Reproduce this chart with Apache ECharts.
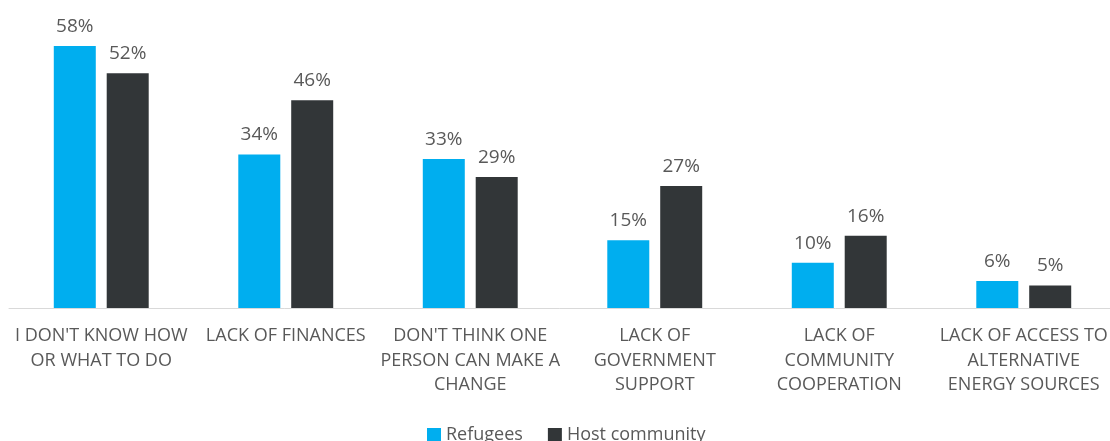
<!DOCTYPE html>
<html><head><meta charset="utf-8">
<script src="https://cdn.jsdelivr.net/npm/echarts@6/dist/echarts.min.js"></script>
<style>html,body{margin:0;padding:0;background:#fff}#c{width:1110px;height:441px}</style>
</head><body><div id="c"></div>
<script>
const categories = [
  "I DON'T KNOW HOW\nOR WHAT TO DO",
  "LACK OF FINANCES",
  "DON'T THINK ONE\nPERSON CAN MAKE A\nCHANGE",
  "LACK OF\nGOVERNMENT\nSUPPORT",
  "LACK OF\nCOMMUNITY\nCOOPERATION",
  "LACK OF ACCESS TO\nALTERNATIVE\nENERGY SOURCES"
];
const refugees = [58, 34, 33, 15, 10, 6];
const hostCommunity = [52, 46, 29, 27, 16, 5];
const seriesNames = ["Refugees", "Host community"];

const FONT = "Open Sans";
const TXT = "#595959";
const chart = echarts.init(document.getElementById('c'));
const lbl = {show: true, position: 'top', distance: 10, formatter: '{c}%', color: TXT, fontFamily: FONT, fontSize: 19};
chart.setOption({
  animation: false,
  grid: {left: 9, top: 37, width: 1107, height: 271, containLabel: false, outerBoundsMode: 'none'},
  legend: {
    data: seriesNames, top: 421, left: 422, itemWidth: 14, itemHeight: 14, itemGap: 25,
    icon: 'rect',
    textStyle: {color: TXT, fontFamily: FONT, fontSize: 18}
  },
  xAxis: {
    type: 'category', data: categories,
    axisLine: {lineStyle: {color: '#d9d9d9', width: 1}},
    axisTick: {show: false},
    axisLabel: {interval: 0, margin: 16, color: TXT, fontFamily: FONT, fontSize: 18, lineHeight: 24.5}
  },
  yAxis: {type: 'value', min: 0, max: 60, show: false, splitLine: {show: false}},
  series: [
    {name: seriesNames[0], type: 'bar', data: refugees, barWidth: 42, barGap: '26%', itemStyle: {color: '#00AEEF'}, label: lbl},
    {name: seriesNames[1], type: 'bar', data: hostCommunity, barWidth: 42, itemStyle: {color: '#323638'}, label: lbl}
  ]
});
</script></body></html>
